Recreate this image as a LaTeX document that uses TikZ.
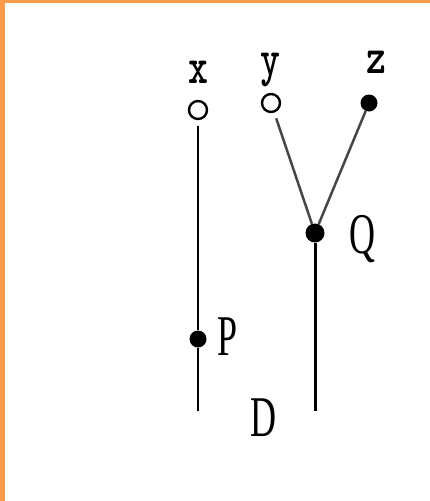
\documentclass[tikz,border=0pt]{standalone}
\usepackage{fontspec}
\setmainfont{Liberation Serif}
\definecolor{frameorange}{RGB}{249,155,72}
\definecolor{linkgray}{RGB}{70,70,70}
\tikzset{
  opendot/.style={circle,draw=black,line width=2.4pt,fill=white,minimum size=18pt,inner sep=0pt},
  fulldot/.style={circle,fill=black,minimum size=17pt,inner sep=0pt},
  varlabel/.style={inner sep=0pt,font=\ttfamily\bfseries\fontsize{38}{38}\selectfont,yscale=1.35,transform shape},
  caplabel/.style={inner sep=0pt,font=\fontsize{36}{36}\selectfont,yscale=1.6,transform shape},
  wire/.style={line width=2pt,black},
  thickwire/.style={line width=3pt,black},
  branch/.style={line width=2.5pt,linkgray}
}
\begin{document}
\begin{tikzpicture}[x=1pt,y=-1pt]
\useasboundingbox (0,0) rectangle (430,501);
\fill[white] (0,0) rectangle (430,501);
\fill[frameorange] (0,0) rectangle (5,501);
\fill[frameorange] (0,0) rectangle (430,2.5);
% lines
\coordinate (xend) at (198,411);
\coordinate (qend) at (315,411);
\node[fulldot] (P) at (198,339) {};
\node[fulldot,minimum size=19pt] (Q) at (315,233) {};
\node[opendot] (xc) at (198,110) {};
\node[opendot] (yc) at (271,103) {};
\node[fulldot] (zc) at (369,103) {};
\draw[wire,shorten <=6pt] (xc) -- (P);
\draw[wire] (P) -- (xend);
\draw[branch,shorten <=6pt] (yc) -- (Q);
\draw[branch] (zc) -- (Q);
\draw[thickwire] (Q) -- (qend);
% labels
\node[varlabel] (xl) at (198,72) {x};
\node[varlabel] (yl) at (270,70) {y};
\node[varlabel] (zl) at (376,62) {z};
\node[caplabel] (Pl) at (228,337) {P};
\node[caplabel] (Ql) at (362,239) {Q};
\node[caplabel] (Dl) at (263,418) {D};
\end{tikzpicture}
\end{document}
